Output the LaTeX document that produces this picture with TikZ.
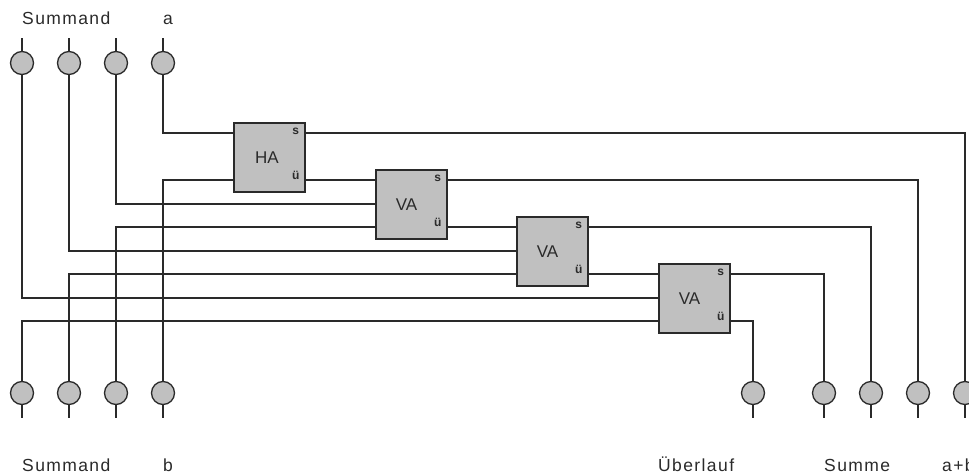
\documentclass[tikz,border=0pt]{standalone}
\usepackage{fontspec}
\setmainfont{Liberation Sans}
\usepackage{tikz}
\usetikzlibrary{positioning,calc}
\definecolor{gatterfill}{HTML}{C0C0C0}
\definecolor{leitung}{HTML}{2A2A2A}

\begin{document}
\begin{tikzpicture}[x=1pt,y=-1pt,
	wire/.style={draw=leitung,line width=1.3pt},
	port/.style={circle,draw=leitung,fill=gatterfill,line width=1.3pt,minimum size=23pt,inner sep=0pt},
	adder/.style={rectangle,draw=leitung,fill=gatterfill,line width=1.5pt,minimum width=71pt,minimum height=69pt,inner sep=0pt},
	adderlabel/.style={font=\fontsize{17}{17}\selectfont,text=leitung,inner sep=0pt},
	pinlabel/.style={font=\fontsize{12}{12}\selectfont\bfseries,text=leitung,inner sep=0pt},
	caption/.style={font=\fontsize{17.5}{18}\selectfont\addfontfeatures{LetterSpace=8},text=leitung,inner sep=0pt,anchor=base west}]
	\useasboundingbox (0,0) rectangle (969,476);
	% eingaenge oben
	\node[port] (a0) at (163,63) {};
	\node[port] (a1) at (116,63) {};
	\node[port] (a2) at (69,63) {};
	\node[port] (a3) at (22,63) {};
	% eingaenge unten
	\node[port] (b0) at (163,393) {};
	\node[port] (b1) at (116,393) {};
	\node[port] (b2) at (69,393) {};
	\node[port] (b3) at (22,393) {};
	% ausgaenge
	\node[port] (ue) at (753,393) {};
	\node[port] (s3) at (824,393) {};
	\node[port] (s2) at (871,393) {};
	\node[port] (s1) at (918,393) {};
	\node[port] (s0) at (965,393) {};
	% addierer
	\node[adder] (ha) at (269.5,157.5) {};
	\node[adder] (va1) at (411.5,204.5) {};
	\node[adder] (va2) at (552.5,251.5) {};
	\node[adder] (va3) at (694.5,298.5) {};
	\node[adderlabel] (haname) at ($(ha.center)+(-2.5,0)$) {HA};
	\node[adderlabel] (va1name) at ($(va1.center)+(-5,0)$) {VA};
	\node[adderlabel] (va2name) at ($(va2.center)+(-5,0)$) {VA};
	\node[adderlabel] (va3name) at ($(va3.center)+(-5,0)$) {VA};
	\foreach \blk in {ha,va1,va2,va3}{
		\node[pinlabel] (\blk s) at ($(\blk.north east)+(-10,9)$) {s};
		\node[pinlabel] (\blk u) at ($(\blk.south east)+(-10,-17)$) {ü};
	}
	% stummel
	\foreach \p in {a0,a1,a2,a3}{
		\coordinate (\p end) at ($(\p.north)+(0,-13)$);
		\draw[wire] (\p.north) -- (\p end);
	}
	\foreach \p in {b0,b1,b2,b3,ue,s3,s2,s1,s0}{
		\coordinate (\p end) at ($(\p.south)+(0,13)$);
		\draw[wire] (\p.south) -- (\p end);
	}
	% leitungen zu den addierern
	\draw[wire] (a0.south) |- (ha.west |- 0,133);
	\draw[wire] (b0.north) |- (ha.west |- 0,180);
	\draw[wire] (a1.south) |- (va1.west |- 0,204);
	\draw[wire] (b1.north) |- (va1.west |- 0,227);
	\draw[wire] (a2.south) |- (va2.west |- 0,251);
	\draw[wire] (b2.north) |- (va2.west |- 0,274);
	\draw[wire] (a3.south) |- (va3.west |- 0,298);
	\draw[wire] (b3.north) |- (va3.west |- 0,321);
	% uebertrag
	\draw[wire] (ha.east |- 0,180) -- (va1.west |- 0,180);
	\draw[wire] (va1.east |- 0,227) -- (va2.west |- 0,227);
	\draw[wire] (va2.east |- 0,274) -- (va3.west |- 0,274);
	\draw[wire] (va3.east |- 0,321) -| (ue.north);
	% summe
	\draw[wire] (ha.east |- 0,133) -| (s0.north);
	\draw[wire] (va1.east |- 0,180) -| (s1.north);
	\draw[wire] (va2.east |- 0,227) -| (s2.north);
	\draw[wire] (va3.east |- 0,274) -| (s3.north);
	% beschriftung
	\node[caption] (t1) at (22,25) {Summand};
	\node[caption] (t2) at (163,25) {a};
	\node[caption] (t3) at (22,471) {Summand};
	\node[caption] (t4) at (163,471) {b};
	\node[caption] (t5) at (658,471) {Überlauf};
	\node[caption] (t6) at (824,471) {Summe};
	\node[caption] (t7) at (942,471) {a+b};
\end{tikzpicture}
\end{document}
